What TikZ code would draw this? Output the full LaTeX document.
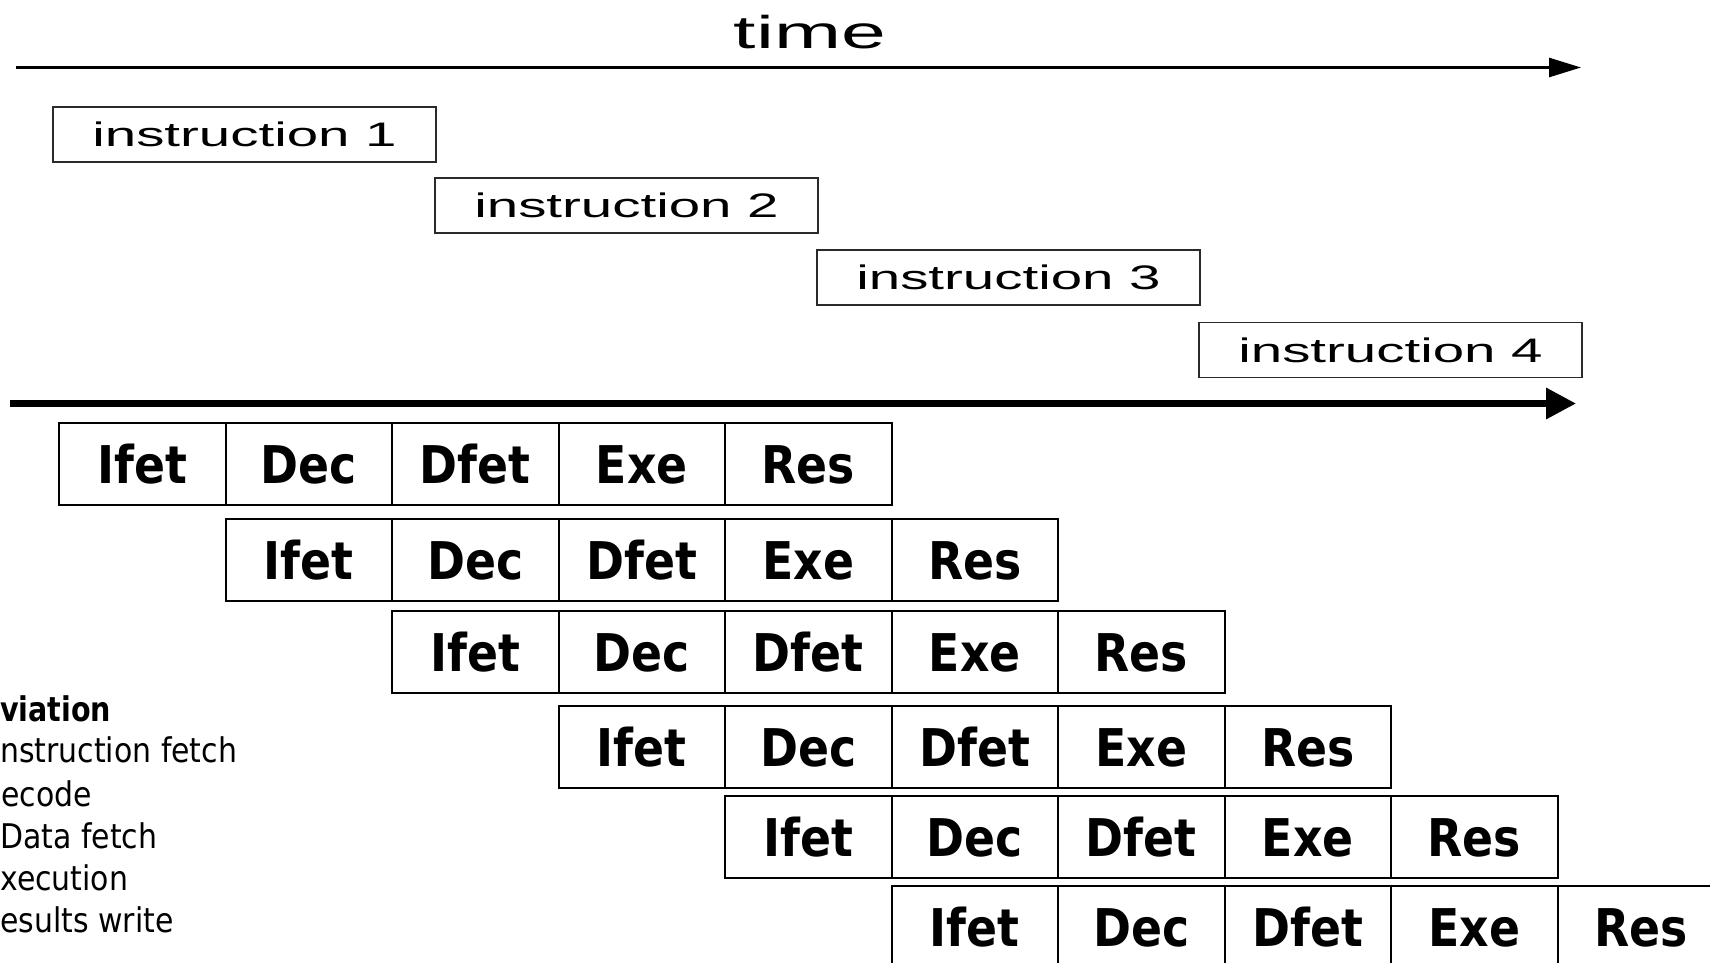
\documentclass[tikz,border=0pt]{standalone}
\usepackage{xcolor}
\usepackage{graphicx}
\usepackage{fontspec}
\usepackage{tikz}
\usetikzlibrary{positioning, arrows.meta}
\newfontfamily\helvfont{Liberation Sans}
\newfontfamily\tahfont{DejaVu Sans}
\definecolor{boxline}{HTML}{2A2A2A}
\newcommand{\widetxt}[1]{\scalebox{1.66}[1]{#1}}
\newcommand{\narrowtxt}[1]{\scalebox{0.88}[1]{#1}}

\tikzset{
    instbox/.style={draw=boxline, line width=1.5pt, fill=white, inner sep=0pt, outer sep=0pt,
          minimum width=383pt, minimum height=55pt, font=\helvfont\fontsize{34}{36}\selectfont},
    stagebox/.style={draw=black, line width=2pt, inner sep=0pt, outer sep=0pt,
          minimum width=166.5pt, minimum height=82pt, text height=38pt, text depth=0pt,
          font=\tahfont\bfseries\fontsize{52}{54}\selectfont},
    legendtxt/.style={anchor=base west, inner sep=0pt, font=\tahfont\fontsize{34}{36}\selectfont}
}

\begin{document}
\begin{tikzpicture}[x=1pt, y=-1pt]
    \useasboundingbox (0,0) rectangle (1710,963);
    \clip (0,0) rectangle (1710,963);

    \node[anchor=base, inner sep=0pt, font=\helvfont\fontsize{46}{48}\selectfont] (timelbl) at (810,49)
          {\scalebox{1.75}[1]{time}};
    \coordinate (t0) at (16,67.5);
    \coordinate (t1) at (1581,67.5);
    \draw[line width=2.7pt, -{Triangle[length=32pt, width=19pt]}] (t0) -- (t1);

    \node[instbox] (i1) at (244.5,134.5) {\widetxt{instruction 1}};
    \node[instbox, below right=16pt and -1pt of i1] (i2) {\widetxt{instruction 2}};
    \node[instbox, below right=17pt and -1pt of i2] (i3) {\widetxt{instruction 3}};
    \node[instbox, below right=17.5pt and -1pt of i3] (i4) {\widetxt{instruction 4}};

    \coordinate (a0) at (10,403.5);
    \coordinate (a1) at (1576,403.5);
    \draw[line width=6.5pt, -{Triangle[length=30pt, width=30pt]}] (a0) -- (a1);

    \foreach \r/\y in {1/464, 2/560, 3/652, 4/747, 5/837, 6/927} {
        \foreach \lbl [count=\c from 0] in {Ifet, Dec, Dfet, Exe, Res} {
            \node[stagebox] (s\r-\c) at ({142.25+(\r-1+\c)*166.5}, \y) {\narrowtxt{\lbl}};
        }
    }

    \node[legendtxt, font=\tahfont\bfseries\fontsize{34}{36}\selectfont] (lg0) at (0,721) {\scalebox{0.84}[1]{viation}};
    \node[legendtxt] (lg1) at (0,762) {\narrowtxt{nstruction fetch}};
    \node[legendtxt] (lg2) at (1,806) {\narrowtxt{ecode}};
    \node[legendtxt] (lg3) at (0,848) {\narrowtxt{Data fetch}};
    \node[legendtxt] (lg4) at (0,890) {\narrowtxt{xecution}};
    \node[legendtxt] (lg5) at (0,932) {\narrowtxt{esults write}};
\end{tikzpicture}
\end{document}
